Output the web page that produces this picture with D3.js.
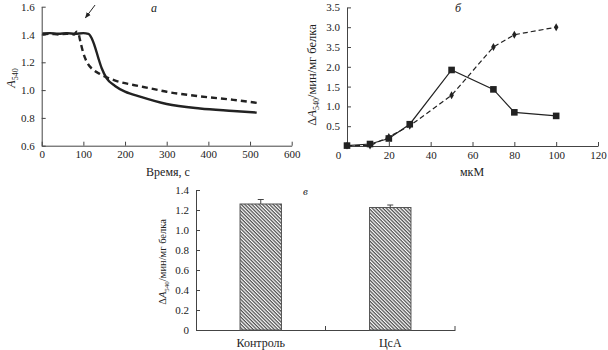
<!doctype html>
<html lang="ru">
<head>
<meta charset="utf-8">
<script src="https://d3js.org/d3.v7.min.js"></script>
<style>
  body { margin: 0; background: #fff; }
  svg, svg text { font-family: "Liberation Serif", "Times New Roman", "DejaVu Serif", serif !important; }
  svg text { fill: #222; }
  .axis path, .axis line { stroke: #444; stroke-width: 1; }
  .axis text { font-size: 11px; }
</style>
</head>
<body>
<svg width="608" height="350"></svg>
<script>
// panel а: absorbance vs time
const timeSolid = [2, 20, 40, 60, 80, 100, 112, 120, 128, 136, 144, 156, 176, 200, 236, 300, 380, 460, 516];
const absSolid  = [1.407, 1.41, 1.405, 1.41, 1.405, 1.41, 1.405, 1.373, 1.31, 1.23, 1.157, 1.085, 1.03, 0.989, 0.953, 0.90, 0.868, 0.85, 0.838];
const timeDashed = [2, 20, 40, 60, 78, 84, 88, 92, 100, 110, 124, 140, 156, 180, 220, 260, 300, 380, 460, 524];
const absDashed  = [1.40, 1.405, 1.40, 1.405, 1.40, 1.42, 1.41, 1.36, 1.265, 1.193, 1.145, 1.116, 1.092, 1.065, 1.037, 1.013, 0.988, 0.955, 0.93, 0.905];

// panel б: rate vs concentration
const conc = [0, 11, 20, 30, 50, 70, 80, 100];
const rateSquares  = [0.01, 0.05, 0.19, 0.55, 1.92, 1.43, 0.85, 0.76];
const rateDiamonds = [0.01, 0.01, 0.23, 0.51, 1.28, 2.5, 2.81, 3.0];
const rateTicks = [0.5, 1.0, 1.5, 2.0, 2.5, 3.0, 3.5];
const rateTickLabels = ["0.5", "1.0", "1.5", "2.0", "3.5", "3.0", "3.5"];

// panel в: bars
const groups = ["Контроль", "ЦсА"];
const groupValues = [1.26, 1.225];
const groupErrors = [0.045, 0.025];

const svg = d3.select("svg");
const ink = "#222";
const serif = "'Liberation Serif', 'Times New Roman', serif";

// hatch pattern
svg.append("defs").append("pattern")
  .attr("id", "hatch")
  .attr("patternUnits", "userSpaceOnUse")
  .attr("width", 2.5).attr("height", 10)
  .attr("patternTransform", "rotate(-45)")
  .append("line")
  .attr("x1", 1).attr("y1", 0).attr("x2", 1).attr("y2", 10)
  .attr("stroke", "#333").attr("stroke-width", 1.1);

svg.select("defs").append("marker")
  .attr("id", "arrow")
  .attr("viewBox", "0 0 10 10")
  .attr("refX", 9).attr("refY", 5)
  .attr("markerWidth", 6).attr("markerHeight", 6)
  .attr("orient", "auto")
  .append("path").attr("d", "M0,1 L10,5 L0,9 z").attr("fill", ink);

function styleAxis(g) {
  g.attr("font-family", serif).attr("font-size", 11);
}

// ---------- panel а ----------
const xA = d3.scaleLinear().domain([0, 600]).range([41.7, 291.7]);
const yA = d3.scaleLinear().domain([0.6, 1.6]).range([145.7, 6.7]);

svg.append("g").attr("class", "axis")
  .attr("transform", `translate(0,${yA(0.6)})`)
  .call(d3.axisBottom(xA).tickValues(d3.range(0, 601, 100)).tickSizeInner(-4).tickSizeOuter(0).tickPadding(5))
  .call(styleAxis);
svg.append("g").attr("class", "axis")
  .attr("transform", `translate(${xA(0)},0)`)
  .call(d3.axisLeft(yA).tickValues([0.6, 0.8, 1.0, 1.2, 1.4, 1.6]).tickFormat(d3.format(".1f"))
    .tickSizeInner(-4).tickSizeOuter(0).tickPadding(7))
  .call(styleAxis);

const lineA = d3.line().x(d => xA(d[0])).y(d => yA(d[1])).curve(d3.curveMonotoneX);
svg.append("path")
  .attr("d", lineA(timeSolid.map((t, i) => [t, absSolid[i]])))
  .attr("fill", "none").attr("stroke", ink).attr("stroke-width", 2.4);
svg.append("path")
  .attr("d", lineA(timeDashed.map((t, i) => [t, absDashed[i]])))
  .attr("fill", "none").attr("stroke", ink).attr("stroke-width", 2.4)
  .attr("stroke-dasharray", "6,4");

svg.append("line")
  .attr("x1", xA(128)).attr("y1", yA(1.612))
  .attr("x2", xA(105)).attr("y2", yA(1.52))
  .attr("stroke", ink).attr("stroke-width", 1)
  .attr("marker-end", "url(#arrow)");

svg.append("text").attr("x", 151).attr("y", 12)
  .style("font-style", "italic").style("font-size", "12px").text("а");

const labA = svg.append("text")
  .attr("transform", `translate(15,78) rotate(-90)`)
  .attr("text-anchor", "middle").style("font-size", "12px");
labA.append("tspan").style("font-style", "italic").text("A");
labA.append("tspan").attr("dy", 3).style("font-size", "8px").text("540");

svg.append("text").attr("x", 168).attr("y", 176)
  .attr("text-anchor", "middle").style("font-size", "12px").text("Время, с");

// ---------- panel б ----------
const xB = d3.scaleLinear().domain([0, 120]).range([347, 598]);
const yB = d3.scaleLinear().domain([0, 3.5]).range([146, 7.4]);

const gxB = svg.append("g").attr("class", "axis")
  .attr("transform", `translate(0,${yB(0)})`)
  .call(d3.axisBottom(xB).tickValues(d3.range(0, 121, 20)).tickSizeInner(-4).tickSizeOuter(0).tickPadding(5))
  .call(styleAxis);
gxB.selectAll(".tick").filter(d => d === 0).select("text").attr("dx", -9);
gxB.selectAll(".tick").filter(d => d === 0).select("line").remove();

svg.append("g").attr("class", "axis")
  .attr("transform", `translate(${xB(0)},0)`)
  .call(d3.axisLeft(yB).tickValues(rateTicks).tickFormat((d, i) => rateTickLabels[i])
    .tickSizeInner(-4).tickSizeOuter(0).tickPadding(7))
  .call(styleAxis);

const lineB = d3.line().x(d => xB(d[0])).y(d => yB(d[1]));
const ptsSq = conc.map((c, i) => [c, rateSquares[i]]);
const ptsDi = conc.map((c, i) => [c, rateDiamonds[i]]);

svg.append("path").attr("d", lineB(ptsDi))
  .attr("fill", "none").attr("stroke", ink).attr("stroke-width", 1.2).attr("stroke-dasharray", "5,3");
svg.append("path").attr("d", lineB(ptsSq))
  .attr("fill", "none").attr("stroke", ink).attr("stroke-width", 1.2);

svg.selectAll(".sq").data(ptsSq).enter().append("rect")
  .attr("class", "sq")
  .attr("x", d => xB(d[0]) - 3.3).attr("y", d => yB(d[1]) - 3.3)
  .attr("width", 6.6).attr("height", 6.6).attr("fill", ink);

svg.selectAll(".di").data(ptsDi).enter().append("path")
  .attr("class", "di")
  .attr("d", d3.symbol().type(d3.symbolDiamond).size(18))
  .attr("transform", d => `translate(${xB(d[0])},${yB(d[1])})`)
  .attr("fill", ink);

svg.append("text").attr("x", 455).attr("y", 12)
  .style("font-style", "italic").style("font-size", "12px").text("б");

const labB = svg.append("text")
  .attr("transform", `translate(316,75) rotate(-90)`)
  .attr("text-anchor", "middle").style("font-size", "12.5px");
labB.append("tspan").text("Δ");
labB.append("tspan").style("font-style", "italic").text("A");
labB.append("tspan").attr("dy", 3).style("font-size", "8px").text("540");
labB.append("tspan").attr("dy", -3).text("/мин/мг белка");

svg.append("text").attr("x", 472).attr("y", 176)
  .attr("text-anchor", "middle").style("font-size", "12px").text("мкМ");

// ---------- panel в ----------
const xC = d3.scaleBand().domain(groups).range([196, 455]);
const yC = d3.scaleLinear().domain([0, 1.4]).range([330, 190]);

const gxC = svg.append("g").attr("class", "axis")
  .attr("transform", `translate(0,${yC(0)})`)
  .call(d3.axisBottom(xC).tickSize(0).tickPadding(8))
  .call(styleAxis);
gxC.selectAll("text").style("font-size", "12px");
gxC.selectAll(".sep").data(groups).enter().append("line")
  .attr("class", "sep")
  .attr("x1", d => xC(d) + xC.bandwidth()).attr("x2", d => xC(d) + xC.bandwidth())
  .attr("y1", 0).attr("y2", -4).attr("stroke", "#444");

svg.append("g").attr("class", "axis")
  .attr("transform", `translate(${xC.range()[0]},0)`)
  .call(d3.axisLeft(yC).tickValues(d3.range(0, 1.41, 0.2))
    .tickFormat(d => d === 0 ? "0" : d3.format(".1f")(d))
    .tickSizeInner(-4).tickSizeOuter(0).tickPadding(7))
  .call(styleAxis);

const barW = xC.bandwidth() * 0.32;
svg.selectAll(".bar").data(groups).enter().append("rect")
  .attr("class", "bar")
  .attr("x", d => xC(d) + xC.bandwidth() / 2 - barW / 2)
  .attr("y", (d, i) => yC(groupValues[i]))
  .attr("width", barW)
  .attr("height", (d, i) => yC(0) - yC(groupValues[i]))
  .attr("fill", "url(#hatch)")
  .attr("stroke", "#555").attr("stroke-width", 1);

const err = svg.selectAll(".err").data(groups).enter().append("g").attr("class", "err");
err.append("line")
  .attr("x1", d => xC(d) + xC.bandwidth() / 2).attr("x2", d => xC(d) + xC.bandwidth() / 2)
  .attr("y1", (d, i) => yC(groupValues[i])).attr("y2", (d, i) => yC(groupValues[i] + groupErrors[i]))
  .attr("stroke", "#444");
err.append("line")
  .attr("x1", d => xC(d) + xC.bandwidth() / 2 - 3).attr("x2", d => xC(d) + xC.bandwidth() / 2 + 3)
  .attr("y1", (d, i) => yC(groupValues[i] + groupErrors[i])).attr("y2", (d, i) => yC(groupValues[i] + groupErrors[i]))
  .attr("stroke", "#444");

svg.append("text").attr("x", 303).attr("y", 195)
  .style("font-style", "italic").style("font-size", "11px").text("в");

const labC = svg.append("text")
  .attr("transform", `translate(166,262) rotate(-90)`)
  .attr("text-anchor", "middle").style("font-size", "10.5px");
labC.append("tspan").text("Δ");
labC.append("tspan").style("font-style", "italic").text("A");
labC.append("tspan").attr("dy", 2.5).style("font-size", "7px").text("540");
labC.append("tspan").attr("dy", -2.5).text("/мин/мг белка");
</script>
</body>
</html>
